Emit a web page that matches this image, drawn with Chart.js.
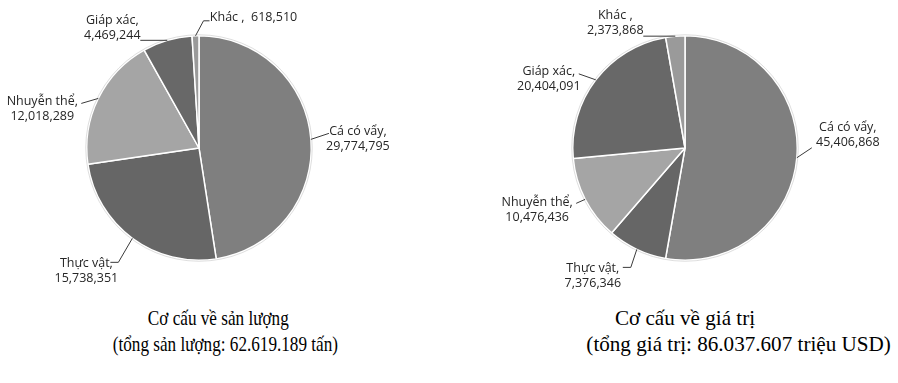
<!DOCTYPE html>
<html>
<head>
<meta charset="utf-8">
<script src="https://cdn.jsdelivr.net/npm/chart.js@4"></script>
<style>
  body { margin: 0; background: #fff; width: 898px; height: 383px; position: relative; overflow: hidden; }
  canvas { position: absolute; top: 0; }
  .ttl { position: absolute; font-family: "Liberation Serif", "Times New Roman", serif; font-size: 22px; color: #000; white-space: nowrap; line-height: 26px; }
</style>
</head>
<body>
<canvas id="chartQty" width="449" height="300" style="left:0"></canvas>
<canvas id="chartVal" width="449" height="300" style="left:449px"></canvas>

<div class="ttl" id="t1a">Cơ cấu về sản lượng</div>
<div class="ttl" id="t1b">(tổng sản lượng: 62.619.189 tấn)</div>
<div class="ttl" id="t2a">Cơ cấu về giá trị</div>
<div class="ttl" id="t2b">(tổng giá trị: 86.037.607 triệu USD)</div>

<script>
var categories = ['Cá có vẩy', 'Thực vật', 'Nhuyễn thể', 'Giáp xác', 'Khác ']
var qtyValues = [29774795, 15738351, 12018289, 4469244, 618510]
var valValues = [45406868, 7376346, 10476436, 20404091, 2373868]

var sliceColors = ['#7f7f7f', '#666666', '#a5a5a5', '#686868', '#9a9a9a']

// place a title line centred on x
function placeTitle(id, cx, cy, sx){
    var el = document.getElementById(id)
    var w = el.offsetWidth
    el.style.left = (cx - w / 2) + 'px'
    el.style.top = (cy - 13) + 'px'
    el.style.transform = 'scaleX(' + sx + ')'
}
placeTitle('t1a', 218, 318, 0.78)
placeTitle('t1b', 225, 344, 0.78)
placeTitle('t2a', 685, 318, 0.96)
placeTitle('t2b', 738, 344, 0.96)

function fmt(v){ return v.toLocaleString('en-US') }

// data labels with leader lines, offsets are from the edge point of each slice
var pieLabels = {
    id: 'pieLabels',
    afterDatasetsDraw: function(chart, args, opts){
        var ctx = chart.ctx
        var meta = chart.getDatasetMeta(0)
        var vals = chart.data.datasets[0].data
        var R = meta.data[0].outerRadius
        var cx = meta.data[0].x, cy = meta.data[0].y

        ctx.save()
        ctx.beginPath()
        ctx.arc(cx, cy, R + 1, 0, Math.PI * 2)
        ctx.strokeStyle = 'rgba(0,0,0,0.13)'
        ctx.lineWidth = 1
        ctx.stroke()

        meta.data.forEach(function(arc, i){
            var p = opts.place[i]
            var mid = (arc.startAngle + arc.endAngle) / 2
            var ex = arc.x + Math.cos(mid) * R
            var ey = arc.y + Math.sin(mid) * R

            ctx.beginPath()
            ctx.moveTo(ex, ey)
            p.line.forEach(function(pt){ ctx.lineTo(ex + pt[0], ey + pt[1]) })
            ctx.strokeStyle = '#3a3a3a'
            ctx.lineWidth = 1
            ctx.stroke()

            var lines
            if (p.inline) lines = [chart.data.labels[i] + ',  ' + fmt(vals[i])]
            else lines = [chart.data.labels[i] + ',', fmt(vals[i])]

            ctx.fillStyle = '#262626'
            ctx.font = '12.5px "Open Sans"'
            ctx.textAlign = 'center'
            ctx.textBaseline = 'middle'
            lines.forEach(function(t, k){
                ctx.fillText(t, ex + p.dx, ey + p.dy + k * 15)
            })
        })
        ctx.restore()
    }
}

function makePie(canvasId, values, padding, place){
    var c = document.getElementById(canvasId).getContext('2d')
    return new Chart(c, {
        type: 'pie',
        data: {
            labels: categories,
            datasets: [{
                data: values,
                backgroundColor: sliceColors,
                borderColor: '#ffffff',
                borderWidth: 1.5,
                hoverOffset: 0
            }]
        },
        options: {
            responsive: false,
            animation: false,
            events: [],
            layout: { padding: padding },
            plugins: {
                legend: { display: false },
                tooltip: { enabled: false },
                pieLabels: { place: place }
            }
        },
        plugins: [pieLabels]
    })
}

makePie('chartQty', qtyValues, {left: 86, right: 137, top: 35, bottom: 39}, [
    {dx: 47, dy: -8, line: [[18, -6]]},
    {dx: -46, dy: 25, line: [[-14, 24], [-22, 24]]},
    {dx: -56, dy: 3, line: [[-17, 5]]},
    {dx: -55, dy: -20, line: [[-27, 0]]},
    {dx: 58, dy: -18, inline: true, line: [[8, -15], [14, -15]]}
])

makePie('chartVal', valValues, {left: 123, right: 100, top: 35, bottom: 39}, [
    {dx: 51, dy: -30, line: [[15, -10]]},
    {dx: -44, dy: 19, line: [[-6, 18], [-14, 18]]},
    {dx: -48, dy: 3, line: [[-9, 4]]},
    {dx: -47, dy: -8, line: [[-17, -6]]},
    {dx: -60, dy: -21, line: [[-32, 0]]}
])
</script>
</body>
</html>
